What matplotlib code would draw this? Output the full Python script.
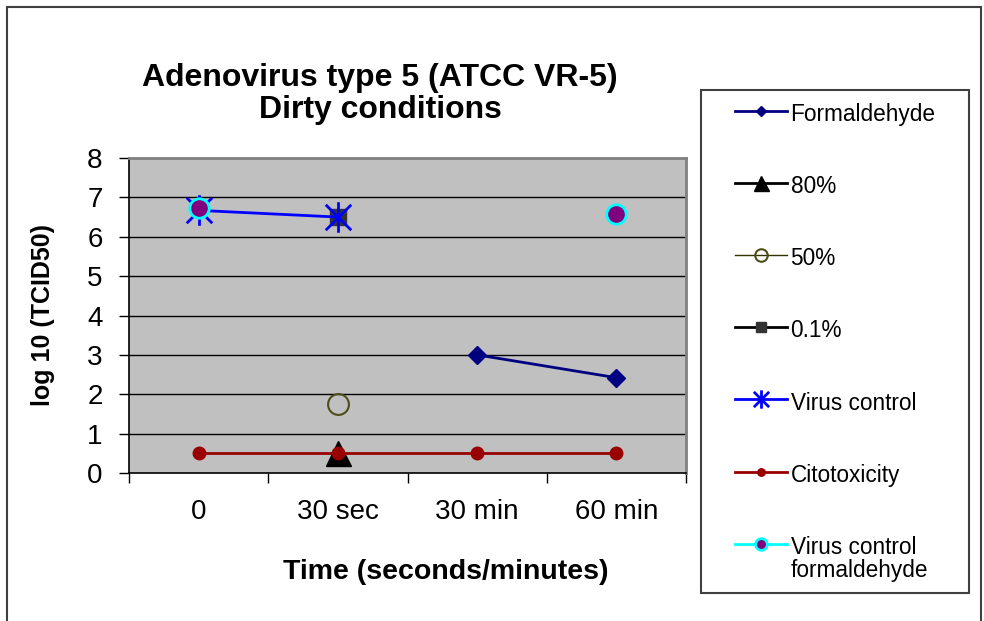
import matplotlib
matplotlib.use("Agg")
import matplotlib.pyplot as plt
import numpy as np
from matplotlib.path import Path
from matplotlib.patches import Rectangle

plt.rcParams['font.family'] = ['Liberation Sans', 'DejaVu Sans']

categories = ["0", "30 sec", "30 min", "60 min"]
formaldehyde = [np.nan, np.nan, 3.0, 2.42]
pct80 = [np.nan, 0.5, np.nan, np.nan]
pct50 = [np.nan, 1.75, np.nan, np.nan]
pct01 = [np.nan, 6.5, np.nan, np.nan]
virus_control = [6.67, 6.5, np.nan, np.nan]
citotoxicity = [0.5, 0.5, 0.5, 0.5]
virus_control_formaldehyde = [6.72, np.nan, np.nan, 6.58]
yticks = [0, 1, 2, 3, 4, 5, 6, 7, 8]

# asterisk marker: X plus vertical bar
ast = Path([(-1, -1), (1, 1), (-1, 1), (1, -1), (0, -1.2), (0, 1.2)],
           [Path.MOVETO, Path.LINETO, Path.MOVETO, Path.LINETO, Path.MOVETO, Path.LINETO])

fig = plt.figure(figsize=(9.84, 6.21), dpi=100)
ax = fig.add_axes([129/984, 1-473/621, (686-129)/984, (473-158)/621])
ax.set_facecolor('#C0C0C0')

x = np.arange(len(categories))
ax.plot(x, formaldehyde, color='#000080', marker='D', ms=9, lw=2, label='Formaldehyde')
ax.plot(x, pct80, color='black', marker='^', ms=18, lw=2, label='80%')
ax.plot(x, pct50, color='#333300', marker='o', ms=15, mfc='none', mec='#4d4d1a', mew=1.5, lw=1, label='50%')
ax.plot(x, pct01, color='black', marker='s', ms=11, mfc='#333333', mec='#333333', lw=2, label='0.1%')
ax.plot(x, virus_control, color='#0000FF', marker=ast, ms=22, mew=2, lw=2, label='Virus control')
ax.plot(x, citotoxicity, color='#990000', marker='o', ms=9, lw=2, label='Citotoxicity')
ax.plot(x, virus_control_formaldehyde, color='#00FFFF', marker='o', ms=14, mfc='#800080', mec='#00FFFF', mew=2, lw=2, label='Virus control\nformaldehyde')

ax.set_xlim(-0.5, 3.5)
ax.set_ylim(0, 8)
ax.set_yticks(yticks)
ax.set_yticklabels([str(v) for v in yticks])
for v in yticks[1:-1]:
    ax.axhline(v, color='black', lw=1, zorder=1)
ax.set_axisbelow(True)

ax.set_xticks(x)
ax.set_xticklabels(categories)
ax.set_xticks(np.arange(-0.5, 3.6, 1.0), minor=True)
ax.tick_params(axis='x', which='major', length=0, pad=19, labelsize=20)
ax.tick_params(axis='x', which='minor', length=7, width=1, direction='out', color='black')
ax.tick_params(axis='y', which='major', length=7, width=1, direction='out', pad=12, labelsize=20)

for s in ['top', 'right']:
    ax.spines[s].set_color('#808080')
    ax.spines[s].set_linewidth(2)
ax.spines['bottom'].set_color('black')
ax.spines['left'].set_color('black')
ax.spines['bottom'].set_linewidth(1.2)
ax.spines['left'].set_linewidth(1.2)

ax.set_ylabel('log 10 (TCID50)', fontsize=18, fontweight='bold')
ax.yaxis.set_label_coords((55-129)/557, 0.5)

fig.text(380/984, 1-94/621, 'Adenovirus type 5 (ATCC VR-5)\nDirty conditions',
         ha='center', va='center', fontsize=23, fontweight='bold', linespacing=1.05)
fig.text(446/984, 1-572/621, 'Time (seconds/minutes)', ha='center', va='center',
         fontsize=20.5, fontweight='bold')

# legend box
fig.patches.append(Rectangle((701/984, 1-593/621), (969-701)/984, (593-90)/621,
                             transform=fig.transFigure, fill=False, edgecolor='#404040', lw=1.5))
handles, labels = ax.get_legend_handles_labels()
leg = fig.legend(handles, labels, loc='upper left', bbox_to_anchor=(726/984, 1-94/621),
                 frameon=False, fontsize=16.3, labelspacing=2.17, handlelength=2.3,
                 handletextpad=0.15, markerscale=0.6, borderaxespad=0)
leg.get_texts()[-1].set_linespacing(1.0)
for col in leg._legend_handle_box.get_children():
    for row in col.get_children():
        row.align = 'top'

# outer frame
fig.patches.append(Rectangle((6.5/984, -0.1), (981-6.5)/984, 1.1 - 7/621,
                             transform=fig.transFigure, fill=False, edgecolor='#404040', lw=1.5))

fig.savefig('out.png', dpi=100)
